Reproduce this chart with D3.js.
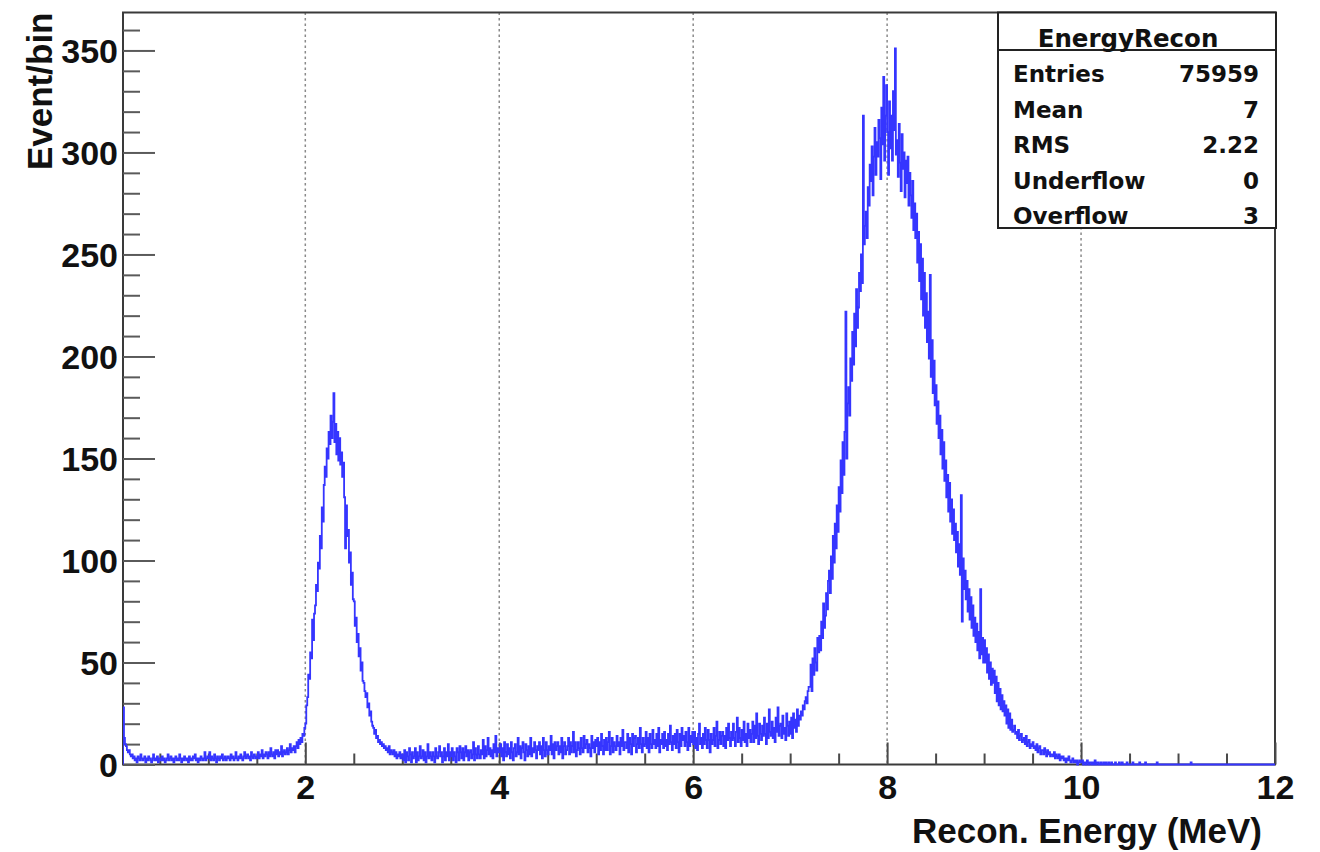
<!DOCTYPE html>
<html>
<head>
<meta charset="utf-8">
<script src="https://cdn.jsdelivr.net/npm/d3@7"></script>
<style>
  html, body { margin: 0; padding: 0; background: #fff; }
  svg { display: block; }
</style>
</head>
<body>
<svg id="chart" width="1320" height="852"></svg>
<script>
// Histogram binning (MeV)
const binStart = 0.12;
const binWidth = 0.01;
const axisMin = 0.12;
const axisMax = 12;
const yMax = 368.6;

// Counts per bin, split by energy range
const counts_0to1 = [
  28,13,10,9,7,6,7,5,4,5,
  3,4,2,3,1,4,3,2,5,3,
  2,3,4,1,3,2,4,3,2,1,
  3,5,2,3,2,4,1,3,3,2,
  4,2,3,1,2,3,5,2,3,4,
  2,3,1,3,4,2,3,2,5,3,
  1,3,2,4,3,2,3,1,4,2,
  3,2,4,3,5,2,3,1,3,2,
  4,3,2,3,6,2,3,4
];
const counts_1to2 = [
  3,6,2,4,3,2,5,3,1,4,
  3,2,4,3,5,2,3,4,2,3,
  4,3,2,5,3,4,2,3,6,3,
  2,4,3,5,3,2,4,6,3,4,
  5,3,4,2,6,4,3,5,4,3,
  4,6,3,5,4,7,3,5,4,6,
  5,3,6,4,8,5,4,6,3,7,
  5,7,4,6,5,9,4,6,7,5,
  6,8,5,7,10,6,8,7,9,6,
  9,11,8,12,10,13,11,15,14,18
];
const counts_2to3 = [
  20,29,33,44,42,55,52,71,61,74,
  78,88,85,99,96,112,106,126,119,137,
  146,141,155,150,163,157,171,160,168,182,
  158,167,152,163,149,160,147,153,141,148,
  131,106,127,112,115,99,104,88,94,81,
  80,68,72,60,64,53,57,46,50,41,
  40,36,33,35,28,30,24,26,21,19,
  18,15,17,13,14,11,12,10,11,9,
  10,8,9,7,8,6,9,5,7,6,
  5,7,4,6,3,5,4,6,3,5
];
const counts_3to4 = [
  4,2,7,1,6,4,2,8,5,1,
  6,3,4,8,1,6,2,4,9,3,
  4,7,2,6,1,4,10,3,6,4,
  2,6,4,1,8,4,3,6,9,4,
  6,1,4,8,2,6,4,10,2,6,
  4,8,2,6,4,1,8,6,2,9,
  6,3,8,2,6,9,4,7,2,6,
  7,3,5,11,2,8,5,3,9,5,
  3,7,5,12,3,9,4,7,13,5,
  8,4,7,3,10,6,14,4,8,6
];
const counts_4to5 = [
  6,10,4,8,2,11,6,4,10,5,
  8,3,11,6,2,8,10,4,6,13,
  5,9,3,8,11,6,2,10,7,4,
  9,5,13,4,8,6,11,7,3,9,
  7,11,5,9,3,13,7,4,11,7,
  5,9,7,14,5,10,3,11,7,9,
  11,5,9,6,13,3,9,11,5,7,
  9,13,5,11,6,9,16,6,11,4,
  7,11,8,5,13,8,6,14,8,10,
  12,6,10,8,4,14,8,11,6,12
];
const counts_5to6 = [
  9,13,5,11,7,15,9,5,12,7,
  13,7,11,16,5,9,13,6,11,9,
  7,14,9,11,5,13,9,17,7,11,
  11,8,15,6,13,10,5,15,9,13,
  14,6,10,13,8,18,10,6,13,9,
  10,16,8,13,6,15,10,8,17,10,
  12,8,15,9,18,6,12,10,15,8,
  16,9,12,7,15,10,19,11,7,14,
  10,15,8,17,11,6,15,9,18,12,
  14,9,16,11,7,18,9,14,11,16
];
const counts_6to7 = [
  10,16,8,13,7,15,20,10,13,8,
  15,10,18,12,8,17,12,6,15,10,
  12,18,9,14,21,8,12,16,10,14,
  16,9,14,8,18,12,20,13,9,16,
  12,20,13,9,16,23,11,18,13,9,
  17,12,21,11,15,9,20,13,17,11,
  15,21,11,19,13,25,14,10,20,15,
  12,19,14,23,15,10,20,13,27,16,
  14,21,13,18,11,23,16,28,14,19,
  20,13,24,15,18,12,25,19,14,21
];
const counts_7to8 = [
  15,23,13,25,18,22,16,27,19,24,
  22,26,24,29,27,31,33,30,36,38,
  38,49,36,52,44,57,50,46,62,55,
  63,56,70,62,79,67,73,84,76,90,
  95,84,102,91,112,99,118,106,127,114,
  136,124,149,133,158,142,163,222,150,177,
  185,171,199,188,212,196,221,205,233,214,
  224,241,232,250,236,318,255,264,271,258,
  283,274,294,286,303,279,298,312,289,305,
  298,316,307,287,322,304,337,296,318,333
];
const counts_8to9 = [
  310,289,325,302,318,296,330,311,351,299,
  306,288,314,295,281,309,292,300,278,296,
  285,298,274,290,279,268,286,262,275,258,
  270,246,261,237,255,228,248,220,241,214,
  231,207,222,199,240,190,208,182,198,176,
  186,167,178,160,171,152,164,145,158,139,
  149,131,142,124,138,119,130,113,125,110,
  118,104,114,97,108,93,132,70,101,86,
  95,81,90,75,86,71,82,67,78,63,
  72,60,69,56,65,52,86,54,62,50
];
const counts_9to10 = [
  61,50,57,45,54,42,50,39,47,40,
  46,35,43,31,40,29,37,27,34,26,
  31,24,29,20,27,18,25,17,22,16,
  17,19,15,16,13,17,12,14,15,11,
  12,13,10,14,9,11,12,8,10,9,
  11,8,9,7,10,6,8,9,5,7,
  7,5,8,6,4,7,5,6,4,5,
  5,4,6,3,5,4,3,5,2,4,
  3,4,2,3,1,3,2,4,2,1,
  2,3,1,2,1,2,0,1,2,1
];
const counts_10to11 = [
  1,2,0,1,1,0,2,1,0,1,
  1,0,1,0,2,0,1,1,0,0,
  1,0,0,1,0,1,0,0,1,0,
  0,1,0,0,0,1,0,0,0,1,
  0,0,1,0,0,0,0,1,0,0,
  0,0,0,1,0,0,0,0,0,0,
  1,0,0,0,0,0,1,0,0,0,
  0,0,0,0,0,0,0,0,1,0,
  0,0,0,0,0,0,0,0,0,0,
  0,0,0,0,0,0,0,0,0,0
];
const counts_11to12 = [
  0,0,0,0,0,0,0,0,0,0,
  0,0,0,1,0,0,0,0,0,0,
  0,0,0,0,0,0,0,0,0,0,
  0,0,0,0,0,0,0,0,0,0,
  0,0,0,0,0,0,0,0,0,0,
  0,0,0,0,0,0,0,0,0,0,
  0,0,0,0,0,0,0,0,0,0,
  0,0,0,0,0,0,0,0,0,0,
  0,0,0,0,0,0,0,0,0,0,
  0,0,0,0,0,0,0,0,0,0
];

// Axis ticks and labels
const xMajorTicks = [2, 4, 6, 8, 10, 12];
const xMinorTicks = [0.5, 1, 1.5, 2.5, 3, 3.5, 4.5, 5, 5.5, 6.5, 7, 7.5, 8.5, 9, 9.5, 10.5, 11, 11.5];
const xGridLines = [2, 4, 6, 8, 10];
const yMajorTicks = [0, 50, 100, 150, 200, 250, 300, 350];
const yMinorTicks = [10,20,30,40,60,70,80,90,110,120,130,140,160,170,180,190,
                     210,220,230,240,260,270,280,290,310,320,330,340,360];
const xTitle = "Recon. Energy (MeV)";
const yTitle = "Event/bin";

// Statistics box
const statsTitle = "EnergyRecon";
const statsLabels = ["Entries", "Mean", "RMS", "Underflow", "Overflow"];
const statsValues = ["75959", "7", "2.22", "0", "3"];

const counts = [].concat(counts_0to1, counts_1to2, counts_2to3, counts_3to4,
  counts_4to5, counts_5to6, counts_6to7, counts_7to8, counts_8to9,
  counts_9to10, counts_10to11, counts_11to12);

// Frame geometry
const frame = { left: 123, right: 1275, top: 12.5, bottom: 764.5 };
const svg = d3.select("#chart");

const x = d3.scaleLinear().domain([axisMin, axisMax]).range([frame.left, frame.right]);
const y = d3.scaleLinear().domain([0, yMax]).range([frame.bottom, frame.top]);

const axisFont = "'Liberation Sans', Arial, Helvetica, sans-serif";

// Dotted vertical grid
svg.append("g").selectAll("line").data(xGridLines).join("line")
  .attr("x1", d => x(d)).attr("x2", d => x(d))
  .attr("y1", frame.top).attr("y2", frame.bottom)
  .attr("stroke", "#8a8a8a").attr("stroke-width", 1.5)
  .attr("stroke-dasharray", "2.5,3");

// Frame
svg.append("rect")
  .attr("x", frame.left).attr("y", frame.top)
  .attr("width", frame.right - frame.left).attr("height", frame.bottom - frame.top)
  .attr("fill", "none").attr("stroke", "#3a3a3a").attr("stroke-width", 2);

// Y axis: major + minor ticks pointing inward
const yAxisMajor = d3.axisLeft(y).tickValues(yMajorTicks).tickSize(-32).tickPadding(5)
  .tickFormat(d3.format("d"));
const gy = svg.append("g").attr("transform", `translate(${frame.left},0)`).call(yAxisMajor);
gy.select(".domain").remove();
gy.selectAll(".tick line").attr("stroke", "#5a5a5a").attr("stroke-width", 2);
gy.selectAll(".tick text")
  .attr("font-family", axisFont).attr("font-weight", "bold").attr("font-size", 34)
  .attr("fill", "#111").attr("dy", null).attr("y", 12).attr("x", -5);

const yAxisMinor = d3.axisLeft(y).tickValues(yMinorTicks).tickSize(-17).tickFormat("");
const gym = svg.append("g").attr("transform", `translate(${frame.left},0)`).call(yAxisMinor);
gym.select(".domain").remove();
gym.selectAll(".tick line").attr("stroke", "#5a5a5a").attr("stroke-width", 2);

// X axis: major + minor ticks pointing inward
const xAxisMajor = d3.axisBottom(x).tickValues(xMajorTicks).tickSize(-22).tickPadding(0)
  .tickFormat(d3.format("d"));
const gx = svg.append("g").attr("transform", `translate(0,${frame.bottom})`).call(xAxisMajor);
gx.select(".domain").remove();
gx.selectAll(".tick line").attr("stroke", "#4a4a4a").attr("stroke-width", 2);
gx.selectAll(".tick text")
  .attr("font-family", axisFont).attr("font-weight", "bold").attr("font-size", 34)
  .attr("fill", "#111").attr("dy", null).attr("y", 34);

const xAxisMinor = d3.axisBottom(x).tickValues(xMinorTicks).tickSize(-11).tickFormat("");
const gxm = svg.append("g").attr("transform", `translate(0,${frame.bottom})`).call(xAxisMinor);
gxm.select(".domain").remove();
gxm.selectAll(".tick line").attr("stroke", "#4a4a4a").attr("stroke-width", 2);

// Axis titles
svg.append("text")
  .attr("x", 1262).attr("y", 843)
  .attr("text-anchor", "end")
  .attr("font-family", axisFont).attr("font-weight", "bold").attr("font-size", 35)
  .attr("fill", "#111").text(xTitle);

svg.append("text")
  .attr("transform", `translate(52,${frame.top}) rotate(-90)`)
  .attr("text-anchor", "end")
  .attr("font-family", axisFont).attr("font-weight", "bold").attr("font-size", 35)
  .attr("fill", "#111").text(yTitle);

// Histogram outline
svg.append("clipPath").attr("id", "plotClip").append("rect")
  .attr("x", frame.left).attr("y", frame.top)
  .attr("width", frame.right - frame.left).attr("height", frame.bottom - frame.top + 1.5);

const pts = [{ e: binStart, v: 0 }];
counts.forEach((v, i) => pts.push({ e: binStart + i * binWidth, v }));
pts.push({ e: binStart + counts.length * binWidth, v: counts[counts.length - 1] });

const histLine = d3.line().curve(d3.curveStepAfter)
  .x(d => x(d.e)).y(d => y(d.v));

svg.append("path")
  .attr("clip-path", "url(#plotClip)")
  .attr("d", histLine(pts))
  .attr("fill", "none").attr("stroke", "#3535ff").attr("stroke-width", 1.8)
  .attr("stroke-linejoin", "miter");

// Statistics box
const statsFont = "'DejaVu Sans', Verdana, sans-serif";
const box = { left: 998, top: frame.top, right: 1276, bottom: 228, sep: 50 };
const gs = svg.append("g");
gs.append("rect")
  .attr("x", box.left).attr("y", box.top)
  .attr("width", box.right - box.left).attr("height", box.bottom - box.top)
  .attr("fill", "#fff").attr("stroke", "#222").attr("stroke-width", 2);
gs.append("line")
  .attr("x1", box.left).attr("x2", box.right)
  .attr("y1", box.sep).attr("y2", box.sep)
  .attr("stroke", "#222").attr("stroke-width", 2);
gs.append("text")
  .attr("x", 1128).attr("y", 47).attr("text-anchor", "middle")
  .attr("font-family", statsFont).attr("font-weight", "bold").attr("font-size", 24.5)
  .attr("fill", "#111").text(statsTitle);

const rowY = d3.scaleLinear().domain([0, statsLabels.length - 1]).range([82, 224]);
gs.append("clipPath").attr("id", "statsClip").append("rect")
  .attr("x", box.left).attr("y", box.sep).attr("width", box.right - box.left)
  .attr("height", box.bottom - box.sep);
const rows = gs.append("g").attr("clip-path", "url(#statsClip)");
rows.selectAll("text.lbl").data(statsLabels).join("text")
  .attr("class", "lbl")
  .attr("x", 1013).attr("y", (d, i) => rowY(i))
  .attr("font-family", statsFont).attr("font-weight", "bold").attr("font-size", 23)
  .attr("fill", "#111").text(d => d);
rows.selectAll("text.val").data(statsValues).join("text")
  .attr("class", "val")
  .attr("x", 1259).attr("y", (d, i) => rowY(i)).attr("text-anchor", "end")
  .attr("font-family", statsFont).attr("font-weight", "bold").attr("font-size", 23)
  .attr("fill", "#111").text(d => d);
</script>
</body>
</html>
